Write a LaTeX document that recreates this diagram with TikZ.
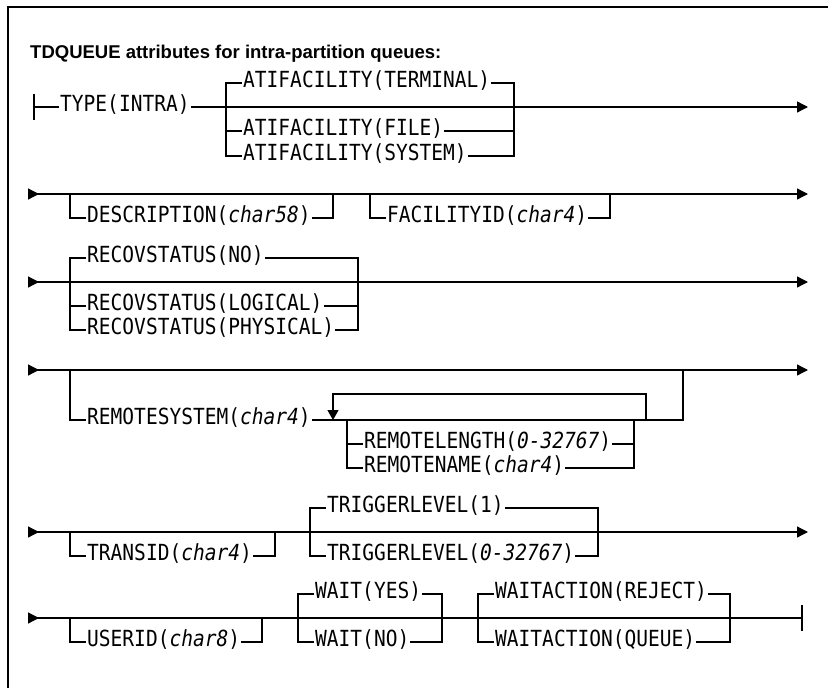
\documentclass[tikz,border=0pt]{standalone}
\usepackage{fontspec}
\usepackage{tikz}
\usetikzlibrary{arrows.meta}
\newfontfamily\railfont[FakeStretch=0.88]{DejaVu Sans Mono}
\newfontfamily\headfont{Liberation Sans}
\newcommand{\var}[1]{\textit{#1}}

\begin{document}
\begin{tikzpicture}[x=1pt,y=-1pt,
  rail/.style={line width=1.3pt},
  kw/.style={font=\railfont\fontsize{22.2}{24}\selectfont,anchor=west,inner xsep=1pt,inner ysep=0pt,text height=8pt,text depth=0pt},
  endarr/.style={-{Triangle[length=11pt,width=11pt]}},
  botharr/.style={{Triangle[reversed,length=11pt,width=11pt]}-{Triangle[length=11pt,width=11pt]}},
  startarr/.style={{Triangle[reversed,length=11pt,width=11pt]}-},
  looparr/.style={-{Triangle[length=10pt,width=11pt]}}]
\useasboundingbox (0,0) rectangle (828,688);
\draw[line width=1.5pt] (8,688) -- (8,7) -- (828,7);
\node[font=\headfont\bfseries\fontsize{18.5}{21}\selectfont,anchor=base west,inner sep=0pt] (title) at (30,58) {TDQUEUE attributes for intra-partition queues:};

% TYPE / ATIFACILITY
\coordinate (s1) at (34,107);
\coordinate (e1) at (808,107);
\coordinate (a1) at (226,107);
\coordinate (a2) at (514,107);
\draw[rail] (34,94) -- (34,120);
\node[kw] (type) at (59,107) {TYPE(INTRA)};
\node[kw] (atiterm) at (242,83) {ATIFACILITY(TERMINAL)};
\node[kw] (atifile) at (242,131) {ATIFACILITY(FILE)};
\node[kw] (atisys) at (242,156) {ATIFACILITY(SYSTEM)};
\draw[rail] (s1) -- (type.west);
\draw[rail,endarr] (type.east) -- (e1);
\draw[rail] (atiterm.west) -| (a1) |- (atisys.west);
\draw[rail] (a1) |- (atifile.west);
\draw[rail] (atiterm.east) -| (a2) |- (atisys.east);
\draw[rail] (atifile.east) -| (a2);

% DESCRIPTION / FACILITYID
\coordinate (s2) at (28,194);
\coordinate (e2) at (808,194);
\coordinate (d1) at (70,194);
\coordinate (d2) at (333,194);
\coordinate (f1) at (370,194);
\coordinate (f2) at (610,194);
\draw[rail,botharr] (s2) -- (e2);
\node[kw] (descr) at (86,218) {DESCRIPTION(\var{char58})};
\node[kw] (facid) at (386,218) {FACILITYID(\var{char4})};
\draw[rail] (d1) |- (descr.west);
\draw[rail] (descr.east) -| (d2);
\draw[rail] (f1) |- (facid.west);
\draw[rail] (facid.east) -| (f2);

% RECOVSTATUS
\coordinate (s3) at (28,282);
\coordinate (e3) at (808,282);
\coordinate (r1) at (70,282);
\coordinate (r2) at (358,282);
\draw[rail,botharr] (s3) -- (e3);
\node[kw] (recno) at (86,258) {RECOVSTATUS(NO)};
\node[kw] (reclog) at (86,306) {RECOVSTATUS(LOGICAL)};
\node[kw] (recphy) at (86,330) {RECOVSTATUS(PHYSICAL)};
\draw[rail] (recno.west) -| (r1) |- (recphy.west);
\draw[rail] (r1) |- (reclog.west);
\draw[rail] (recno.east) -| (r2) |- (recphy.east);
\draw[rail] (reclog.east) -| (r2);

% REMOTESYSTEM
\coordinate (s4) at (28,370);
\coordinate (e4) at (808,370);
\coordinate (m1) at (70,370);
\coordinate (m2) at (683,370);
\coordinate (lp1) at (333,420);
\coordinate (lp2) at (646,420);
\coordinate (c1) at (347,420);
\coordinate (c2) at (634,420);
\draw[rail,botharr] (s4) -- (e4);
\node[kw] (remsys) at (86,420) {REMOTESYSTEM(\var{char4})};
\node[kw] (remlen) at (363,444) {REMOTELENGTH(\var{0-32767})};
\node[kw] (remname) at (363,468) {REMOTENAME(\var{char4})};
\draw[rail] (m1) |- (remsys.west);
\draw[rail] (remsys.east) -| (m2);
\draw[rail,looparr] (lp2) -- ++(0,-26) -| (lp1);
\draw[rail] (c1) |- (remname.west);
\draw[rail] (c1) |- (remlen.west);
\draw[rail] (remlen.east) -| (c2);
\draw[rail] (remname.east) -| (c2);

% TRANSID / TRIGGERLEVEL
\coordinate (s5) at (28,532);
\coordinate (e5) at (808,532);
\coordinate (t1) at (70,532);
\coordinate (t2) at (275,532);
\coordinate (g1) at (310,532);
\coordinate (g2) at (598,532);
\draw[rail,botharr] (s5) -- (e5);
\node[kw] (transid) at (86,556) {TRANSID(\var{char4})};
\node[kw] (trig1) at (326,508) {TRIGGERLEVEL(1)};
\node[kw] (trign) at (326,556) {TRIGGERLEVEL(\var{0-32767})};
\draw[rail] (t1) |- (transid.west);
\draw[rail] (transid.east) -| (t2);
\draw[rail] (trig1.west) -| (g1) |- (trign.west);
\draw[rail] (trig1.east) -| (g2) |- (trign.east);

% USERID / WAIT / WAITACTION
\coordinate (s6) at (28,618);
\coordinate (e6) at (802,618);
\coordinate (u1) at (70,618);
\coordinate (u2) at (262,618);
\coordinate (w1) at (298,618);
\coordinate (w2) at (442,618);
\coordinate (x1) at (478,618);
\coordinate (x2) at (730,618);
\draw[rail,startarr] (s6) -- (e6);
\draw[rail] (802,605) -- (802,631);
\node[kw] (userid) at (86,642) {USERID(\var{char8})};
\node[kw] (waityes) at (314,594) {WAIT(YES)};
\node[kw] (waitno) at (314,642) {WAIT(NO)};
\node[kw] (wareject) at (494,594) {WAITACTION(REJECT)};
\node[kw] (waqueue) at (494,642) {WAITACTION(QUEUE)};
\draw[rail] (u1) |- (userid.west);
\draw[rail] (userid.east) -| (u2);
\draw[rail] (waityes.west) -| (w1) |- (waitno.west);
\draw[rail] (waityes.east) -| (w2) |- (waitno.east);
\draw[rail] (wareject.west) -| (x1) |- (waqueue.west);
\draw[rail] (wareject.east) -| (x2) |- (waqueue.east);
\end{tikzpicture}
\end{document}
